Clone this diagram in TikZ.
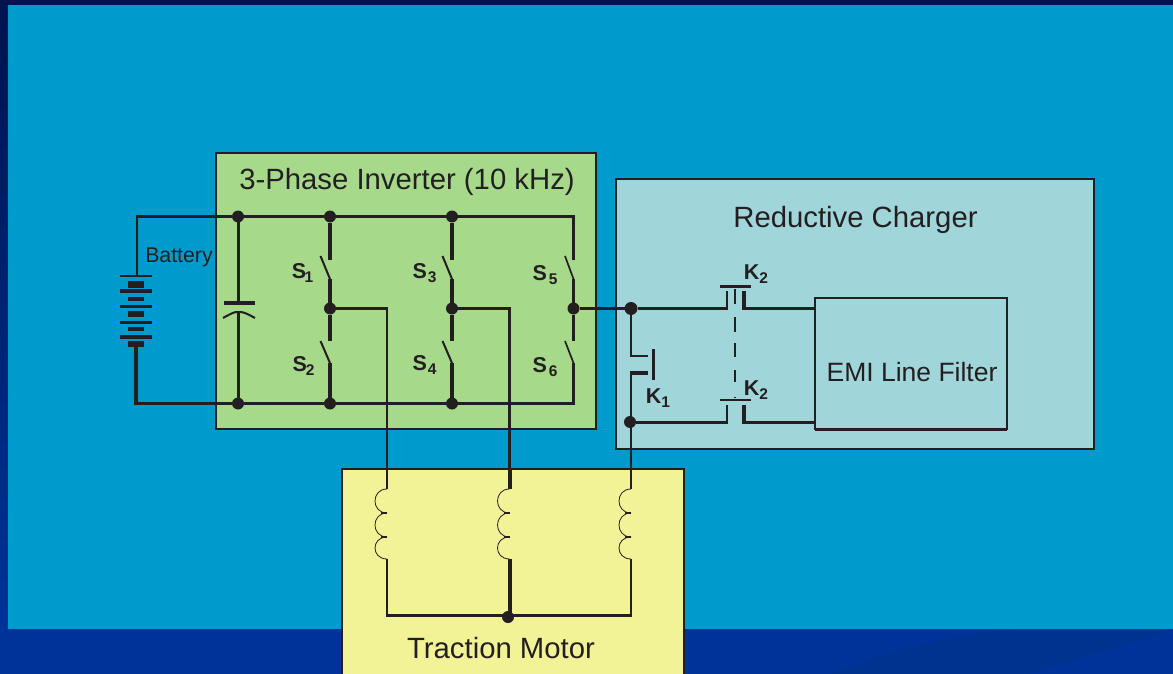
\documentclass[tikz,border=0pt]{standalone}
\usepackage{fontspec}
\setmainfont{Liberation Sans}
\definecolor{ink}{HTML}{231F20}
\definecolor{navy}{HTML}{00134D}
\definecolor{deepblue}{HTML}{003399}
\definecolor{swoosh}{HTML}{00328F}
\definecolor{sky}{HTML}{009BCD}
\definecolor{invgreen}{HTML}{A6D98A}
\definecolor{chargeteal}{HTML}{A0D5DA}
\definecolor{motoryellow}{HTML}{F2F296}
\tikzset{
  panel/.style={draw=ink,line width=2pt,anchor=north west,inner sep=0pt,outer sep=0pt},
  dot/.style={circle,fill=ink,draw=none,minimum size=12pt,inner sep=0pt,outer sep=0pt},
  wthin/.style={draw=ink,line width=2.2pt,line join=miter},
  wmid/.style={draw=ink,line width=3pt,line join=miter},
  wthick/.style={draw=ink,line width=4pt,line join=miter},
  blade/.style={draw=ink,line width=2pt},
  coilline/.style={draw=ink,line width=0.8pt},
  coiltick/.style={draw=ink,line width=1.6pt},
  title/.style={text=ink,inner sep=0pt,font=\fontsize{29.3}{29.3}\selectfont},
  swlabel/.style={text=ink,inner sep=0pt,font=\bfseries\fontsize{21.5}{21.5}\selectfont},
}
\newcommand{\subdigit}[1]{\raisebox{-3.5pt}{\fontsize{15.5}{15.5}\selectfont #1}}
\newcommand{\mycoil}[2]{%
  \coordinate (#1a) at (#2,489);\coordinate (#1b) at (#2,513);\coordinate (#1c) at (#2,537);\coordinate (#1d) at (#2,559);
  \draw[coilline] (#1a) .. controls (#2-16,489) and (#2-16,513) .. (#1b)
     .. controls (#2-16,513) and (#2-16,537) .. (#1c)
     .. controls (#2-16,537) and (#2-16,559) .. (#1d);
  \draw[coiltick] (#1b) -- ++(-6,0);
  \draw[coiltick] (#1c) -- ++(-6,0);
}
\begin{document}
\begin{tikzpicture}[x=1pt,y=-1pt]
\clip (0,0) rectangle (1173,674);
% background
\fill[deepblue] (0,0) rectangle (1173,674);
\shade[top color=navy,bottom color=deepblue,draw=none] (0,0) rectangle (8,629);
\fill[navy] (0,0) rectangle (1173,5);
\fill[sky] (8,5) rectangle (1173,629);
\fill[swoosh] (830,674) .. controls (890,650) and (950,636) .. (1010,630) -- (1173,630) .. controls (1110,650) and (1060,664) .. (1030,674) -- cycle;
% panels
\node[panel,fill=invgreen,minimum width=380pt,minimum height=276pt] (inv) at (216,153) {};
\node[panel,fill=chargeteal,minimum width=478pt,minimum height=270pt] (chg) at (616,179) {};
\node[panel,fill=chargeteal,minimum width=192pt,minimum height=131pt] (emi) at (815,298) {};
\node[panel,fill=motoryellow,minimum width=342pt,minimum height=230pt] (mot) at (342,469) {};
% titles
\node[title] (tinv) at (407,182) {3-Phase Inverter (10 kHz)};
\node[title] (tchg) at (855.5,220) {Reductive Charger};
\node[title,font=\fontsize{26.5}{26.5}\selectfont] (temi) at (912,372) {EMI Line Filter};
\node[title] (tmot) at (501,648) {Traction Motor};
\node[text=ink,inner sep=0pt,font=\fontsize{21.3}{21.3}\selectfont] (tbat) at (179,257) {Battery};
% switch labels
\node[swlabel] (ls1) at (302.5,273) {S\kern-1.5pt\subdigit{1}};
\node[swlabel] (ls2) at (303.5,366) {S\kern-1pt\subdigit{2}};
\node[swlabel] (ls3) at (424.5,273) {S\kern1pt\subdigit{3}};
\node[swlabel] (ls4) at (424.5,365) {S\kern1pt\subdigit{4}};
\node[swlabel] (ls5) at (545,275) {S\kern2pt\subdigit{5}};
\node[swlabel] (ls6) at (545,367) {S\kern2pt\subdigit{6}};
\node[swlabel] (lk1) at (658,398) {K\subdigit{1}};
\node[swlabel] (lk2a) at (756,274) {K\subdigit{2}};
\node[swlabel] (lk2b) at (756,390) {K\subdigit{2}};
% junctions
\node[dot] (jt1) at (238,216.5) {};
\node[dot] (jt2) at (330,216.5) {};
\node[dot] (jt3) at (452,216.5) {};
\node[dot] (jb1) at (238,403.5) {};
\node[dot] (jb2) at (330,403.5) {};
\node[dot] (jb3) at (452,403.5) {};
\node[dot] (jm1) at (330,308.5) {};
\node[dot] (jm2) at (452,308.5) {};
\node[dot] (jm3) at (573.5,308.5) {};
\node[dot,minimum width=13pt,minimum height=12pt] (jk) at (631,308.5) {};
\node[dot] (jk1) at (630,422) {};
\node[dot] (jstar) at (508,617) {};
% coordinates
\coordinate (bt) at (137,216.5);
\coordinate (bb) at (136,403.5);
\coordinate (tr) at (574,216.5);
\coordinate (brr) at (574,403.5);
\coordinate (batt) at (137,276);
\coordinate (batb) at (136,347);
\coordinate (star) at (508,615.5);
% battery
\draw[wthin] (batt) -- (bt);
\draw[wthick,line width=3.6pt] (135.9,216.5) -- (jt1);
\draw[wthick,line width=3.6pt] (jt1) -- (jt2) -- (jt3);
\draw[wmid,line width=3.6pt] (jt3) -- (tr);
\draw[wthick] (batb) -- (136,405);
\draw[wthin] (bb) -- (jb1) -- (jb2) -- (jb3) -- (brr);
\foreach \y/\w in {276/2,291/4,306/3,322/3,337/3.5}
  \draw[ink,line width=\w pt] (120,\y) -- (152,\y);
\foreach \y/\w in {284.5/7,299/4,314/6,329/4,344/6.5}
  \draw[ink,line width=\w pt] (128,\y) -- (144,\y);
% capacitor
\coordinate (cp1) at (238.5,303);
\coordinate (cp2) at (238.5,312);
\draw[wthin] (238.5,216.5) -- (cp1);
\draw[wthin] (cp2) -- (238.5,403.5);
\draw[ink,line width=4pt] (224,303) -- (255,303);
\draw[ink,line width=2pt] (223,318) .. controls (232,313) and (235,311.5) .. (cp2) .. controls (242,311.5) and (246,313) .. (255,318);
% switches, columns 1 and 2
\foreach \x/\t/\m/\b in {330/jt2/jm1/jb2,452/jt3/jm2/jb3}{
  \draw[wthick] (\t) -- (\x,260);
  \draw[blade] (\x-9.5,256) -- (\x,279);
  \draw[wthick] (\x,279) -- (\m) -- (\x,341);
  \draw[blade] (\x-9.5,341) -- (\x,363);
  \draw[wthick] (\x,363) -- (\b);
}
% switches, column 3
\draw[wmid] (573.5,215) -- (573.5,260);
\draw[blade,line width=1.7pt] (565,256) -- (573.5,279);
\draw[wmid] (573.5,279) -- (jm3) -- (573.5,341);
\draw[blade,line width=1.7pt] (565,341) -- (573.5,363);
\draw[wmid] (573.5,363) -- (573.5,404.6);
% motor coils
\mycoil{ca}{387}
\mycoil{cb}{509.5}
\mycoil{cc}{631}
% phase wires
\draw[wthin] (jm1) -- (387,308.5) -- (caa);
\draw[wthin] (jm2) -- (509.5,308.5) -- (509.5,470);
\draw[wthick] (509.5,469) -- (cba);
\draw[wthin] (jm3) -- (jk);
\draw[wthin] (cca) -- (631,422);
% star
\draw[wthin] (cad) -- (387,615.5) -- (star);
\draw[wthin] (ccd) -- (631,615.5) -- (star);
\draw[wthick] (cbd) -- (509.5,615);
% K1
\draw[wthin] (jk) -- (631,356) -- (648,356);
\draw[ink,line width=3pt] (653.5,349) -- (653.5,380);
\draw[wthick,line width=3.6pt] (648,373) -- (631,373);
\draw[wthin] (631,371.2) -- (631,422);
% K2 upper
\coordinate (ka1) at (727,291);
\coordinate (ka2) at (744,291);
\draw[wthin] (jk) -- (727,308.5) -- (ka1);
\draw[ink,line width=3pt] (720,286) -- (751,286);
\draw[wthick] (ka2) -- (744,309.5);
\draw[wthin] (743,308.5) -- (emi.west |- 743,308.5);
% K2 lower
\coordinate (kb1) at (727,405);
\coordinate (kb2) at (744,405);
\draw[wthin] (kb1) -- (727,422);
\draw[wmid] (jk1) -- (727.8,422);
\draw[ink,line width=2pt] (720,400) -- (751,400);
\draw[wthick] (kb2) -- (744,423.5);
\draw[wmid] (743,422) -- (emi.west |- 743,422);
\draw[ink,line width=3pt] (815,429) -- (1007,429);
% ganged link
\foreach \a/\b in {289/304,317/332,343/357,370/382,397/398}
  \draw[ink,line width=2pt] (735,\a) -- (735,\b);
\end{tikzpicture}
\end{document}
